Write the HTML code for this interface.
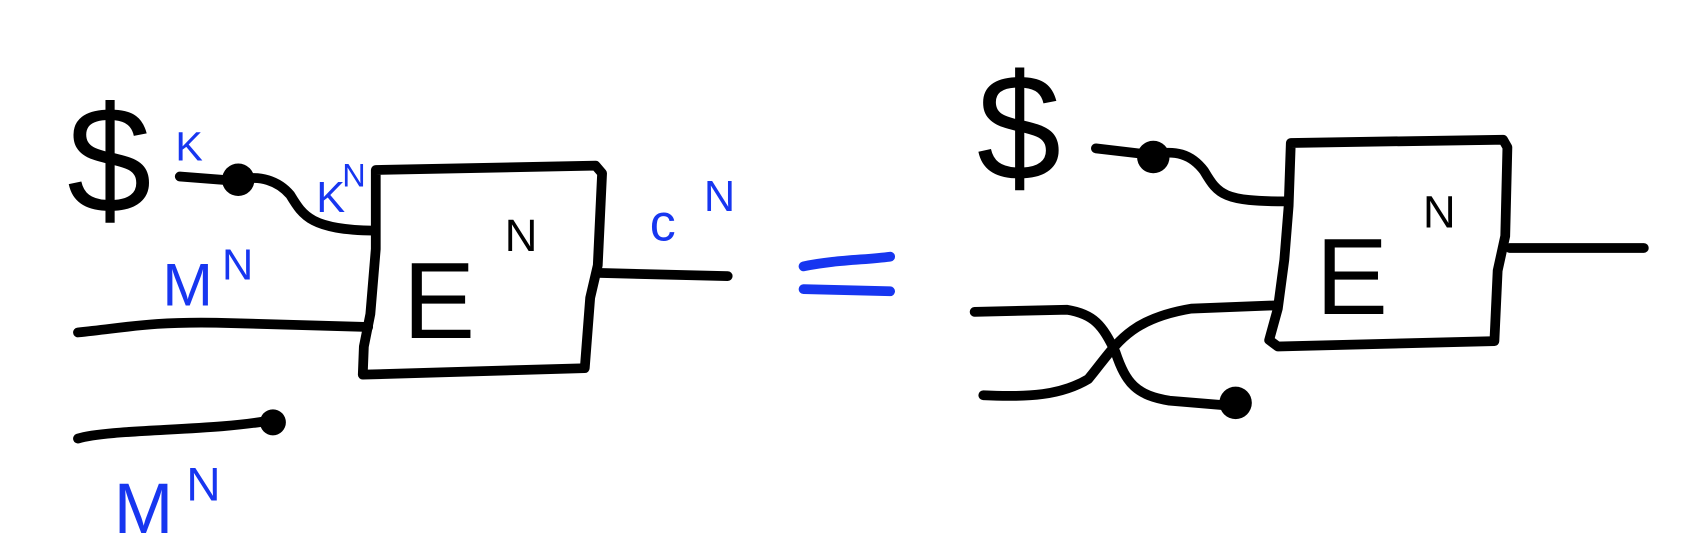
<!DOCTYPE html>
<html><head><meta charset="utf-8"><style>
html,body{margin:0;padding:0;background:#fff;width:1698px;height:560px;overflow:hidden}
svg{display:block}
.k{fill:none;stroke:#000;stroke-width:9;stroke-linecap:round;stroke-linejoin:round}
.t{font-family:"Liberation Sans",sans-serif;fill:#000}
.b{font-family:"Liberation Sans",sans-serif;fill:#1736f0}
.bl{fill:none;stroke:#1736f0;stroke-width:9;stroke-linecap:round}
</style></head><body>
<svg width="1698" height="560" viewBox="0 0 1698 560">
<g transform="scale(1.0829)">
<g>
  <text class="t" x="62" y="196" font-size="140" font-weight="normal">$</text>
  <text class="b" x="162" y="148" font-size="38">K</text>
  <path class="k" d="M166 163 L218 167 C240 160 258 168 268 180 C280 200 288 212 345 213"/>
  <circle cx="220" cy="166" r="15" fill="#000"/>
  <text class="b" x="292" y="196" font-size="40">K</text>
  <text class="b" x="316" y="172" font-size="30">N</text>
  <path class="k" d="M347 157 L550 153 L556 160 L552 245 L545 275 L540 340 L335 346 L336 320 L342 290 L347 230 Z"/>
  <text class="t" x="372" y="312" font-size="100">E</text>
  <text class="t" x="466" y="232" font-size="42">N</text>
  <path class="k" d="M552 252 L672 255"/>
  <text class="b" x="600" y="222" font-size="48">c</text>
  <text class="b" x="650" y="195" font-size="40">N</text>
  <path class="k" d="M72 307 C120 302 140 297 200 298 L340 302"/>
  <text class="b" x="150" y="282" font-size="56">M</text>
  <text class="b" x="205" y="258" font-size="40">N</text>
  <path class="k" d="M72 405 C100 396 200 398 250 388"/>
  <circle cx="252" cy="390" r="12" fill="#000"/>
  <text class="b" x="105" y="492" font-size="66">M</text>
  <text class="b" x="172" y="462" font-size="44">N</text>
</g>
<g>
  <path class="bl" d="M742 246 C770 240 800 240 822 237"/>
  <path class="bl" d="M742 267 L822 269"/>
</g>
<g>
  <text class="t" x="902" y="166" font-size="140">$</text>
  <path class="k" d="M1012 137 L1063 143 C1085 138 1100 142 1112 158 C1125 180 1130 186 1188 186"/>
  <circle cx="1065" cy="145" r="15" fill="#000"/>
  <path class="k" d="M1192 132 L1388 129 L1392 136 L1390 218 L1383 250 L1380 315 L1180 320 L1172 314 L1180 285 L1186 240 L1190 190 Z"/>
  <text class="t" x="1215" y="290" font-size="100">E</text>
  <text class="t" x="1314" y="210" font-size="42">N</text>
  <path class="k" d="M1394 229 L1518 229"/>
  <path class="k" d="M900 288 L985 286 C1010 290 1018 300 1030 325 C1040 355 1050 365 1080 370 L1128 374"/>
  <circle cx="1141" cy="372" r="15" fill="#000"/>
  <path class="k" d="M908 365 C950 367 980 365 1005 350 C1030 320 1040 295 1100 285 L1178 282"/>
</g>
</g>
</svg>
</body></html>
